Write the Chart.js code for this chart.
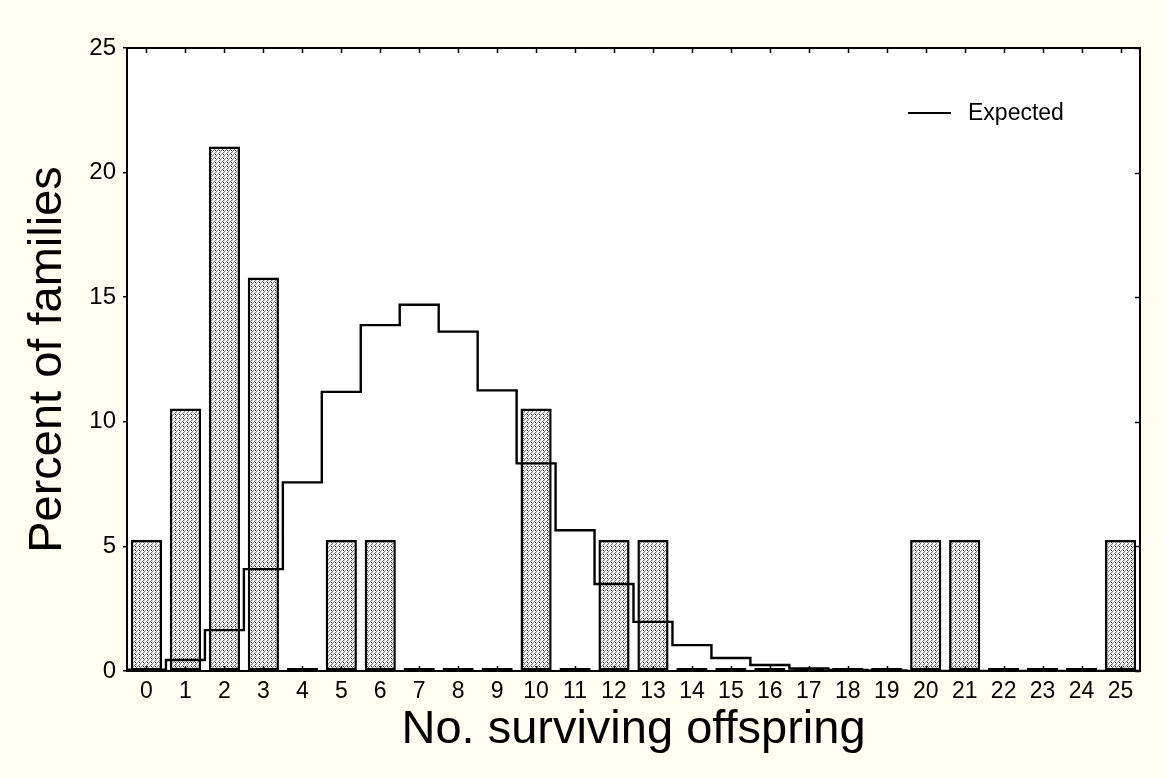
<!DOCTYPE html>
<html lang="en">
<head>
    <meta charset="UTF-8">
    <title>Surviving offspring</title>
    <script src="https://cdn.jsdelivr.net/npm/chart.js"></script>
    <style>
        body { margin: 0; background: #fffcf0; }
        #wrap { width: 1165px; height: 778px; position: relative; }
    </style>
</head>
<body>
    <div id="wrap"><canvas id="offspringChart"></canvas></div>

    <script>
        // histogram categories and values (percent of families)
        const categories = ['0','1','2','3','4','5','6','7','8','9','10','11','12','13','14','15','16','17','18','19','20','21','22','23','24','25'];
        const observed = [5.26, 10.53, 21.05, 15.79, 0, 5.26, 5.26, 0, 0, 0, 10.53, 0, 5.26, 5.26, 0, 0, 0, 0, 0, 0, 5.26, 5.26, 0, 0, 0, 5.26];
        const expected = [0.05, 0.44, 1.64, 4.09, 7.57, 11.2, 13.88, 14.7, 13.62, 11.26, 8.33, 5.65, 3.49, 1.97, 1.04, 0.52, 0.24, 0.1, 0.04, 0.02, 0, 0, 0, 0, 0, 0];
        const yTicks = [0, 5, 10, 15, 20, 25];

        const FONT = "'Liberation Sans', Arial, sans-serif";

        // hatched fill for the bars (diagonal strokes + dots)
        function makeHatch() {
            const c = document.createElement('canvas');
            c.width = 4; c.height = 4;
            const g = c.getContext('2d');
            g.fillStyle = '#ffffff';
            g.fillRect(0, 0, 4, 4);
            g.fillStyle = '#7a7a7a';
            for (let i = 0; i < 4; i++) g.fillRect(i, 3 - i, 1, 1);
            g.fillStyle = '#c0c0c0';
            g.fillRect(0, 0, 1, 1);
            g.fillStyle = '#111';
            g.fillRect(3, 2, 1, 1);
            return g.createPattern(c, 'repeat');
        }

        // step line points on bin edges
        const stepPoints = expected.map((v, i) => ({ x: i - 0.5, y: v }));
        stepPoints.push({ x: categories.length - 0.5, y: expected[expected.length - 1] });

        const framePlugin = {
            id: 'frame',
            beforeDraw(chart) {
                const { ctx, chartArea: a } = chart;
                ctx.save();
                ctx.fillStyle = '#ffffff';
                ctx.fillRect(a.left, a.top, a.right - a.left, a.bottom - a.top);
                ctx.restore();
            },
            afterDraw(chart) {
                const { ctx, chartArea: a, scales } = chart;
                ctx.save();
                ctx.strokeStyle = '#000';
                ctx.lineWidth = 2;
                ctx.strokeRect(a.left, a.top, a.right - a.left, a.bottom - a.top);
                ctx.lineWidth = 1.5;
                ctx.beginPath();
                categories.forEach((c, i) => {
                    const x = Math.round(scales.x.getPixelForValue(i)) + 0.5;
                    ctx.moveTo(x, a.top); ctx.lineTo(x, a.top + 5);
                    ctx.moveTo(x, a.bottom); ctx.lineTo(x, a.bottom - 5);
                });
                yTicks.forEach(v => {
                    const y = Math.round(scales.y.getPixelForValue(v)) + 0.5;
                    ctx.moveTo(a.right, y); ctx.lineTo(a.right - 5, y);
                });
                ctx.stroke();

                // legend
                const ly = a.top + 65;
                ctx.lineWidth = 2;
                ctx.beginPath();
                ctx.moveTo(a.right - 232, ly);
                ctx.lineTo(a.right - 189, ly);
                ctx.stroke();
                ctx.fillStyle = '#000';
                ctx.font = '23px ' + FONT;
                ctx.textBaseline = 'middle';
                ctx.fillText('Expected', a.right - 172, ly + 1);
                ctx.restore();
            }
        };

        const ctx = document.getElementById('offspringChart').getContext('2d');
        new Chart(ctx, {
            data: {
                labels: categories,
                datasets: [{
                    type: 'line',
                    label: 'Expected',
                    data: stepPoints,
                    xAxisID: 'x2',
                    stepped: 'before',
                    borderColor: '#000',
                    borderWidth: 2.4,
                    pointRadius: 0,
                    fill: false,
                    order: 1
                }, {
                    type: 'bar',
                    label: 'Observed',
                    data: observed,
                    xAxisID: 'x',
                    grouped: false,
                    backgroundColor: makeHatch(),
                    borderColor: '#000',
                    borderWidth: 2.5,
                    borderSkipped: false,
                    minBarLength: 3,
                    categoryPercentage: 1,
                    barPercentage: 0.8,
                    order: 2
                }]
            },
            options: {
                responsive: true,
                maintainAspectRatio: false,
                animation: false,
                layout: { padding: { left: 0, top: 48, right: 25, bottom: 0 } },
                plugins: {
                    legend: { display: false },
                    tooltip: { enabled: false }
                },
                scales: {
                    x: {
                        type: 'category',
                        offset: true,
                        grid: { display: false, drawTicks: false },
                        border: { display: false },
                        ticks: { color: '#000', font: { family: FONT, size: 23 }, padding: 7, maxRotation: 0, autoSkip: false },
                        title: { display: true, text: 'No. surviving offspring', color: '#000', font: { family: FONT, size: 47 }, padding: { top: 0, bottom: 20 } },
                        afterFit(scale) { scale.height = 107; }
                    },
                    x2: {
                        type: 'linear',
                        display: false,
                        offset: false,
                        min: -0.5,
                        max: categories.length - 0.5
                    },
                    y: {
                        min: 0,
                        max: 25,
                        grid: { drawOnChartArea: false, tickLength: 4, color: '#000', lineWidth: 1.5 },
                        border: { display: false },
                        ticks: { stepSize: 5, color: '#000', font: { family: FONT, size: 24 }, padding: 7 },
                        title: { display: true, text: 'Percent of families', color: '#000', font: { family: FONT, size: 47 }, padding: { top: 20, bottom: 0 } },
                        afterFit(scale) { scale.width = 127; }
                    }
                }
            },
            plugins: [framePlugin]
        });
    </script>
</body>
</html>
